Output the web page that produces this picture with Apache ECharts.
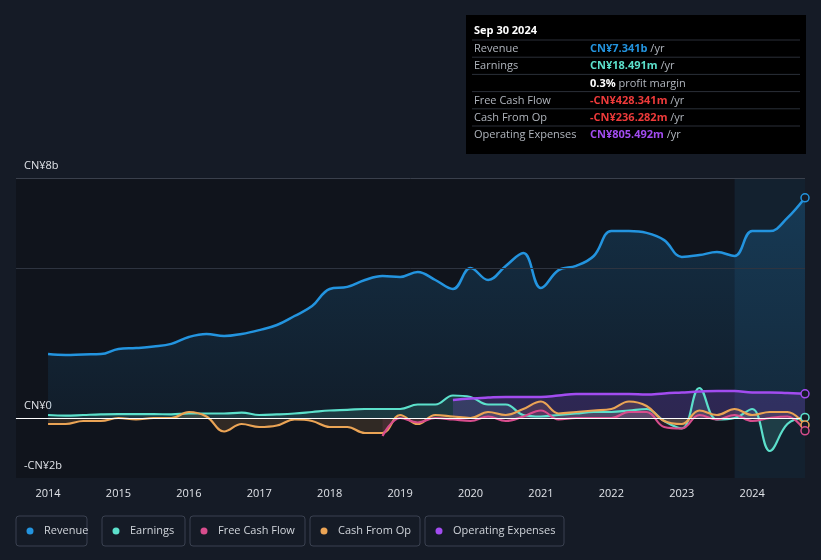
<!DOCTYPE html><html><head><meta charset="utf-8"><script src="https://cdn.jsdelivr.net/npm/echarts@6/dist/echarts.min.js"></script>
<style>html,body{margin:0;background:#151b26}#c{width:821px;height:560px}</style></head><body><div id="c"></div><script>
const quarters=[];for(let i=0;i<44;i++)quarters.push(2014+i*0.25);
const revenue=[2.13,2.1,2.12,2.13,2.3,2.33,2.38,2.47,2.7,2.8,2.73,2.8,2.93,3.1,3.4,3.73,4.3,4.37,4.6,4.73,4.7,4.87,4.6,4.3,5.0,4.6,5.07,5.5,4.33,4.93,5.07,5.4,6.23,6.23,6.17,5.93,5.37,5.43,5.53,5.4,6.23,6.23,6.67,7.341];
const earnings=[0.1,0.08,0.1,0.12,0.13,0.13,0.13,0.12,0.15,0.15,0.15,0.18,0.1,0.12,0.15,0.2,0.25,0.27,0.3,0.3,0.3,0.45,0.45,0.75,0.7,0.45,0.45,0.1,0.05,0.1,0.15,0.2,0.2,0.25,0.3,-0.1,-0.35,1.0,-0.05,0.0,0.3,-1.1,-0.2,0.018];
const cfo=[-0.2,-0.2,-0.1,-0.1,0.0,-0.05,0.0,0.0,0.2,0.05,-0.45,-0.2,-0.3,-0.25,-0.05,-0.1,-0.3,-0.3,-0.5,-0.5,0.1,-0.2,0.1,0.05,0.0,0.2,0.1,0.3,0.55,0.15,0.2,0.25,0.3,0.55,0.4,-0.1,-0.2,0.25,0.1,0.3,0.1,0.2,0.2,-0.236];
const fcf=[null,null,null,null,null,null,null,null,null,null,null,null,null,null,null,null,null,null,null,-0.6,0.0,-0.15,0.0,-0.05,-0.1,0.05,-0.1,0.05,0.25,-0.05,0.0,0.0,0.0,0.2,0.2,-0.3,-0.35,0.1,-0.05,0.1,-0.1,0.0,0.05,-0.428];
const opex=[null,null,null,null,null,null,null,null,null,null,null,null,null,null,null,null,null,null,null,null,null,null,null,0.6,0.65,0.68,0.7,0.7,0.7,0.75,0.8,0.8,0.8,0.8,0.78,0.82,0.85,0.88,0.9,0.9,0.85,0.85,0.83,0.805];
const yearTicks=[2014,2015,2016,2017,2018,2019,2020,2021,2022,2023,2024];
const legendNames=['Revenue','Earnings','Free Cash Flow','Cash From Op','Operating Expenses'];
const colors=['#2394df','#5ce0cb','#d84d8d','#eba455','#a24cf0'];
const z=a=>a.map((v,i)=>[quarters[i],v]);
const mk=(name,data,color,fillOp,w)=>({name,type:'line',data:z(data),smooth:0.4,symbol:'none',connectNulls:false,
 lineStyle:{color,width:w||2.5},areaStyle:{color,opacity:fillOp},z:3,
 markPoint:{symbol:'circle',symbolSize:8,itemStyle:{color:'#151b26',borderColor:color,borderWidth:1.5},label:{show:false},data:[{coord:[2024.75,data[43]]}]}});
const chart=echarts.init(document.getElementById('c'));
const legendBoxes=[[16,71],[102,83],[190,115],[310,110],[425,139]];
const g=[];
g.push({type:'rect',z:-10,shape:{x:16,y:178,width:789,height:300},style:{fill:'#10141c'}});
legendBoxes.forEach((b,i)=>{g.push({type:'rect',shape:{x:b[0],y:516,width:b[1],height:30,r:3},style:{fill:'none',stroke:'#3a4150',lineWidth:1}});
 g.push({type:'circle',shape:{cx:b[0]+14,cy:531,r:3.5},style:{fill:colors[i]}});
 g.push({type:'text',x:b[0]+28,y:531,style:{text:legendNames[i],fill:'#d0d4da',font:'11px "Open Sans",sans-serif',verticalAlign:'middle'}});});
g.push({type:'rect',shape:{x:466,y:15,width:340,height:139},style:{fill:'#000'}});
const rows=[['Revenue','CN¥7.341b','#2394df'],['Earnings','CN¥18.491m','#5ce0cb'],['','0.3%','#fff'],['Free Cash Flow','-CN¥428.341m','#ee3a3a'],['Cash From Op','-CN¥236.282m','#ee3a3a'],['Operating Expenses','CN¥805.492m','#a24cf0']];
g.push({type:'text',x:474,y:31,style:{text:'Sep 30 2024',fill:'#fff',font:'bold 11px "Open Sans",sans-serif',verticalAlign:'middle'}});
rows.forEach((r,i)=>{const y=49+i*17.2;
 g.push({type:'line',shape:{x1:472,y1:y-9,x2:800,y2:y-9},style:{stroke:'#2a2f38',lineWidth:1}});
 g.push({type:'text',x:474,y,style:{text:r[0],fill:'#b0b5bd',font:'11px "Open Sans",sans-serif',verticalAlign:'middle'}});
 g.push({type:'text',x:590,y,style:{rich:{a:{fill:r[2],font:'bold 11px "Open Sans",sans-serif'},b:{fill:'#b0b5bd',font:'11px "Open Sans",sans-serif'}},text:'{a|'+r[1]+'}{b|'+(i==2?' profit margin':' /yr')+'}',verticalAlign:'middle'}});});
[['CN¥8b',166],['CN¥0',406],['-CN¥2b',466]].forEach(t=>g.push({type:'text',x:24,y:t[1],style:{text:t[0],fill:'#e0e3e8',font:'11px "Open Sans",sans-serif',verticalAlign:'middle'}}));
const rev=mk('Revenue',revenue,colors[0],0,2.5);
rev.areaStyle={color:new echarts.graphic.LinearGradient(0,0,0,1,[{offset:0,color:'rgba(35,148,223,0.3)'},{offset:1,color:'rgba(35,148,223,0.1)'}])};
rev.markLine={silent:true,symbol:'none',label:{show:false},data:[{yAxis:8,lineStyle:{color:'#3a404c',type:'solid',width:1}},{yAxis:5,lineStyle:{color:'#2e3440',type:'solid',width:1}},{yAxis:0,lineStyle:{color:'#ffffff',type:'solid',width:1.2}}]};
rev.markArea={silent:true,itemStyle:{color:'rgba(40,110,160,0.15)'},data:[[{xAxis:2023.75},{xAxis:2024.75}]]};
chart.setOption({backgroundColor:'#151b26',animation:false,graphic:g,
 grid:{left:16,right:16,top:178,bottom:82},
 xAxis:{type:'value',min:2013.545,max:2024.75,splitLine:{show:false},axisLine:{lineStyle:{color:'#3a404c'}},axisTick:{show:false},
  axisLabel:{customValues:yearTicks,color:'#e0e3e8',fontSize:11,fontFamily:'Open Sans',margin:10,formatter:v=>String(Math.round(v))}},
 yAxis:{type:'value',min:-2,max:8,splitLine:{show:false},axisLabel:{show:false},axisLine:{show:false},axisTick:{show:false}},
 series:[rev,mk('Earnings',earnings,colors[1],0.15,2.2),mk('Cash From Op',cfo,colors[3],0.15,2.2),mk('Free Cash Flow',fcf,colors[2],0.12,2.2),mk('Operating Expenses',opex,colors[4],0.2,2.5)]});
</script></body></html>
